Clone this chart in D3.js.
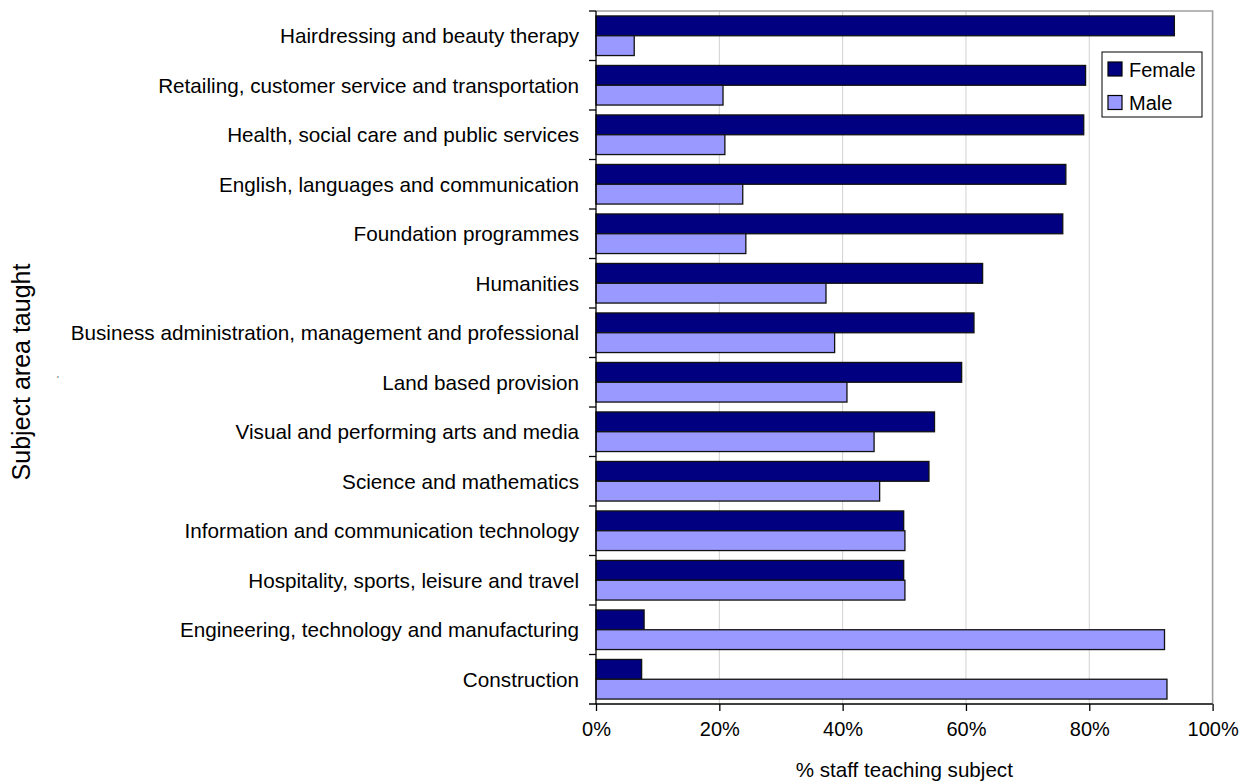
<!DOCTYPE html>
<html>
<head>
<meta charset="utf-8">
<script src="https://cdn.jsdelivr.net/npm/d3@7/dist/d3.min.js"></script>
<style>
  html, body { margin: 0; padding: 0; background: #fff; }
  svg { display: block; font-family: Arial, "Liberation Sans", sans-serif; }
</style>
</head>
<body>
<svg id="chart" width="1250" height="784"></svg>
<script>
// Subject areas, listed top to bottom
const categories = [
  "Hairdressing and beauty therapy",
  "Retailing, customer service and transportation",
  "Health, social care and public services",
  "English, languages and communication",
  "Foundation programmes",
  "Humanities",
  "Business administration, management and professional",
  "Land based provision",
  "Visual and performing arts and media",
  "Science and mathematics",
  "Information and communication technology",
  "Hospitality, sports, leisure and travel",
  "Engineering, technology and manufacturing",
  "Construction"
];

// Share of staff teaching each subject (%)
const femaleValues = [93.8, 79.4, 79.1, 76.2, 75.7, 62.7, 61.3, 59.3, 54.9, 54.0, 49.9, 49.9, 7.8, 7.4];
const maleValues   = [6.2, 20.6, 20.9, 23.8, 24.3, 37.3, 38.7, 40.7, 45.1, 46.0, 50.1, 50.1, 92.2, 92.6];

const seriesNames = ["Female", "Male"];
const seriesColors = ["#000080", "#9999FF"];
const tickValues = [0, 20, 40, 60, 80, 100];

const rows = categories.map((c, i) => ({ category: c, values: [femaleValues[i], maleValues[i]] }));

const svg = d3.select("#chart");
const plot = { left: 596, right: 1212.6, top: 11, bottom: 704 };

const x = d3.scaleLinear().domain([0, 100]).range([plot.left, plot.right]);
const y = d3.scaleBand().domain(categories).range([plot.top, plot.bottom]).padding(0);
const ySeries = d3.scaleBand().domain(seriesNames)
  .range([y.bandwidth() * 0.1, y.bandwidth() * 0.9]).padding(0);

// Vertical gridlines
svg.append("g")
  .selectAll("line")
  .data(tickValues.filter(v => v > 0 && v < 100))
  .join("line")
  .attr("x1", d => x(d)).attr("x2", d => x(d))
  .attr("y1", plot.top).attr("y2", plot.bottom)
  .attr("stroke", "#d0d0d0").attr("stroke-width", 1);

// Plot area border (top and right)
svg.append("path")
  .attr("d", `M${plot.left},${plot.top}H${plot.right}V${plot.bottom}`)
  .attr("fill", "none").attr("stroke", "#a0a0a0").attr("stroke-width", 1.6);

// Bars
const groups = svg.append("g")
  .selectAll("g")
  .data(rows)
  .join("g")
  .attr("transform", d => `translate(0,${y(d.category)})`);

groups.selectAll("rect")
  .data(d => d.values.map((v, j) => ({ series: seriesNames[j], value: v, color: seriesColors[j] })))
  .join("rect")
  .attr("x", x(0))
  .attr("y", d => ySeries(d.series))
  .attr("width", d => x(d.value) - x(0))
  .attr("height", ySeries.bandwidth())
  .attr("fill", d => d.color)
  .attr("stroke", "#111")
  .attr("stroke-width", 1.3);

// Category axis (left)
const yAxis = svg.append("g");
yAxis.append("line")
  .attr("x1", plot.left).attr("x2", plot.left)
  .attr("y1", plot.top).attr("y2", plot.bottom)
  .attr("stroke", "#000").attr("stroke-width", 1.3);
yAxis.selectAll("line.tick")
  .data(categories)
  .join("line")
  .attr("class", "tick")
  .attr("x1", plot.left - 7).attr("x2", plot.left)
  .attr("y1", d => y(d)).attr("y2", d => y(d))
  .attr("stroke", "#000").attr("stroke-width", 1.3);
yAxis.selectAll("text")
  .data(categories)
  .join("text")
  .attr("x", 579)
  .attr("y", d => y(d) + y.bandwidth() / 2)
  .attr("dy", "0.36em")
  .attr("text-anchor", "end")
  .attr("font-size", 20.7)
  .attr("fill", "#000")
  .text(d => d);

// Value axis (bottom)
const xAxis = svg.append("g")
  .attr("transform", `translate(0,${plot.bottom})`)
  .call(d3.axisBottom(x).tickValues(tickValues).tickFormat(d => d + "%").tickSize(7).tickSizeOuter(0));
xAxis.select(".domain").remove();
xAxis.append("line")
  .attr("x1", plot.left - 7).attr("x2", plot.right)
  .attr("y1", 0).attr("y2", 0)
  .attr("stroke", "#000").attr("stroke-width", 1.3);
xAxis.selectAll(".tick line").attr("stroke", "#000").attr("stroke-width", 1.3);
xAxis.selectAll(".tick text")
  .attr("font-size", 20)
  .attr("font-family", "Arial, 'Liberation Sans', sans-serif")
  .attr("fill", "#000")
  .attr("y", 32)
  .attr("dy", 0);

// Axis titles
svg.append("text")
  .attr("x", (plot.left + plot.right) / 2)
  .attr("y", 777)
  .attr("text-anchor", "middle")
  .attr("font-size", 20.6)
  .text("% staff teaching subject");

svg.append("text")
  .attr("transform", "translate(30,372) rotate(-90)")
  .attr("text-anchor", "middle")
  .attr("font-size", 25)
  .text("Subject area taught");

svg.append("text")
  .attr("x", 57).attr("y", 382)
  .attr("font-size", 9)
  .attr("fill", "#444")
  .text("'");

// Legend
const legend = svg.append("g").attr("transform", "translate(1102,52)");
legend.append("rect")
  .attr("width", 100).attr("height", 65)
  .attr("fill", "#fff").attr("stroke", "#000").attr("stroke-width", 1);
const items = legend.selectAll("g")
  .data(seriesNames)
  .join("g")
  .attr("transform", (d, i) => `translate(6,${10 + i * 33.5})`);
items.append("rect")
  .attr("width", 14).attr("height", 14)
  .attr("fill", (d, i) => seriesColors[i])
  .attr("stroke", "#000").attr("stroke-width", 1.2);
items.append("text")
  .attr("x", 21).attr("y", 14.5)
  .attr("font-size", 20)
  .text(d => d);
</script>
</body>
</html>
